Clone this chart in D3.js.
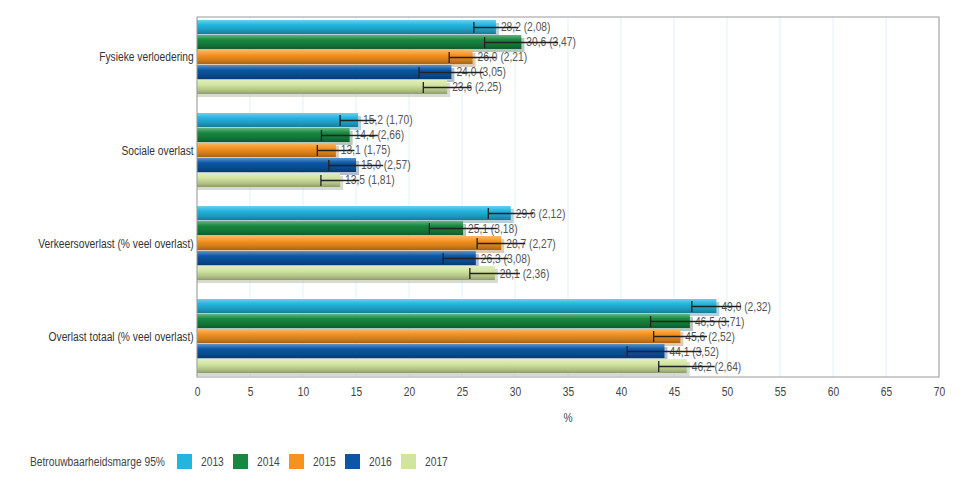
<!DOCTYPE html>
<html><head><meta charset="utf-8">
<script src="https://cdn.jsdelivr.net/npm/d3@7"></script>
<style>
body{margin:0;background:#fff;}
svg{font-family:"Liberation Sans",Arial,sans-serif;}
</style></head><body>
<svg id="c" width="960" height="500"></svg>
<script>
const categories = ["Fysieke verloedering","Sociale overlast","Verkeersoverlast (% veel overlast)","Overlast totaal (% veel overlast)"];
const years = ["2013","2014","2015","2016","2017"];
const colors = ["#22b5de","#16883f","#f6931f","#0b57a6","#d2e5a0"];
const values = [
  [28.2,30.6,26.0,24.0,23.6],
  [15.2,14.4,13.1,15.0,13.5],
  [29.6,25.1,28.7,26.3,28.1],
  [49.0,46.5,45.6,44.1,46.2]
];
const margins = [
  [2.08,3.47,2.21,3.05,2.25],
  [1.70,2.66,1.75,2.57,1.81],
  [2.12,3.18,2.27,3.08,2.36],
  [2.32,3.71,2.52,3.52,2.64]
];
const xTicks = d3.range(0,71,5);
const legendTitle = "Betrouwbaarheidsmarge 95%";
const axisTitle = "%";

const SX = 0.82; // condensed look
const svg = d3.select("#c");
const L=197,R=939,T=17,B=377;
const x = d3.scaleLinear().domain([0,70]).range([L,R]);
const y0 = d3.scaleBand().domain(categories).range([T,B]).paddingInner(0.1935).paddingOuter(0.032);
const y1 = d3.scaleBand().domain(years).range([0,y0.bandwidth()]).padding(0);
const fmt = v => v.toFixed(1).replace(".",",");
const fmt2 = v => v.toFixed(2).replace(".",",");

const defs = svg.append("defs");
colors.forEach((c,i)=>{
  const g = defs.append("linearGradient").attr("id","g"+i).attr("x1",0).attr("x2",0).attr("y1",0).attr("y2",1);
  const base=d3.color(c);
  g.append("stop").attr("offset","0%").attr("stop-color",d3.interpolateRgb(c,"#fff")(0.35));
  g.append("stop").attr("offset","35%").attr("stop-color",c);
  g.append("stop").attr("offset","75%").attr("stop-color",base.darker(0.5));
  g.append("stop").attr("offset","100%").attr("stop-color",base.darker(1.1));
});

// grid
svg.append("g").selectAll("line").data(xTicks).join("line")
  .attr("x1",d=>x(d)).attr("x2",d=>x(d)).attr("y1",T).attr("y2",B)
  .attr("stroke","#e3f1f7").attr("stroke-width",1);

// bars
const groups = svg.append("g").selectAll("g").data(categories).join("g")
  .attr("transform",d=>`translate(0,${y0(d)})`);
groups.each(function(cat,ci){
  const g=d3.select(this);
  const data = years.map((yr,i)=>({yr,i,v:values[ci][i],m:margins[ci][i]}));
  g.selectAll("rect.sh").data(data).join("rect").attr("class","sh")
    .attr("x",x(0)).attr("y",d=>y1(d.yr)+3).attr("width",d=>x(d.v)-x(0)+3).attr("height",y1.bandwidth()-1)
    .attr("fill",d=>d3.interpolateRgb(colors[d.i],"#999")(0.6)).attr("opacity",0.5);
  g.selectAll("rect.b").data(data).join("rect").attr("class","b")
    .attr("x",x(0)).attr("y",d=>y1(d.yr)).attr("width",d=>x(d.v)-x(0)).attr("height",y1.bandwidth()-1)
    .attr("fill",d=>`url(#g${d.i})`);
  g.selectAll("text.v").data(data).join("text").attr("class","v")
    .attr("transform",d=>`translate(${x(d.v)+5},${y1(d.yr)+y1.bandwidth()/2+4}) scale(${SX},1)`)
    .attr("font-size",12.5).attr("fill","#555")
    .text(d=>`${fmt(d.v)} (${fmt2(d.m)})`);
  g.selectAll("line.e").data(data).join("line").attr("class","e")
    .attr("x1",d=>x(d.v-d.m)).attr("x2",d=>x(d.v+d.m))
    .attr("y1",d=>y1(d.yr)+y1.bandwidth()/2).attr("y2",d=>y1(d.yr)+y1.bandwidth()/2)
    .attr("stroke","#222").attr("stroke-width",1.3);
  g.selectAll("line.c").data(data).join("line").attr("class","c")
    .attr("x1",d=>x(d.v-d.m)).attr("x2",d=>x(d.v-d.m))
    .attr("y1",d=>y1(d.yr)+2).attr("y2",d=>y1(d.yr)+y1.bandwidth()-2)
    .attr("stroke","#222").attr("stroke-width",1.3);
});

// border
svg.append("rect").attr("x",L).attr("y",T).attr("width",R-L).attr("height",B-T)
  .attr("fill","none").attr("stroke","#9a9a9a").attr("stroke-width",1);

// x axis
const xa = svg.append("g").attr("transform",`translate(0,${B})`)
  .call(d3.axisBottom(x).tickValues(xTicks).tickSize(0).tickPadding(10));
xa.select(".domain").remove();
xa.selectAll("text").attr("font-size",12.5).attr("fill","#444").attr("font-family","inherit")
  .attr("transform",`scale(${SX},1)`);

// y axis labels
const ya = svg.append("g").attr("transform",`translate(${L},0)`)
  .call(d3.axisLeft(y0).tickSize(0).tickPadding(4));
ya.select(".domain").remove();
ya.selectAll("text").attr("font-size",12.5).attr("fill","#333").attr("font-family","inherit")
  .attr("transform",`scale(${SX},1)`);

svg.append("text").attr("transform",`translate(568,422) scale(${SX},1)`).attr("text-anchor","middle")
  .attr("font-size",12.5).attr("fill","#444").text(axisTitle);

// legend
const lg = svg.append("g").attr("transform","translate(30,461)");
lg.append("text").attr("transform",`translate(0,5) scale(${SX},1)`).attr("font-size",12.5).attr("fill","#444").text(legendTitle);
const li = lg.selectAll("g").data(years).join("g").attr("transform",(d,i)=>`translate(${147+i*56},0)`);
li.append("rect").attr("x",0).attr("y",-7).attr("width",15).attr("height",15).attr("fill",(d,i)=>colors[i]);
li.append("text").attr("transform",`translate(24,5) scale(${SX},1)`).attr("font-size",12.5).attr("fill","#444").text(d=>d);
</script></body></html>
